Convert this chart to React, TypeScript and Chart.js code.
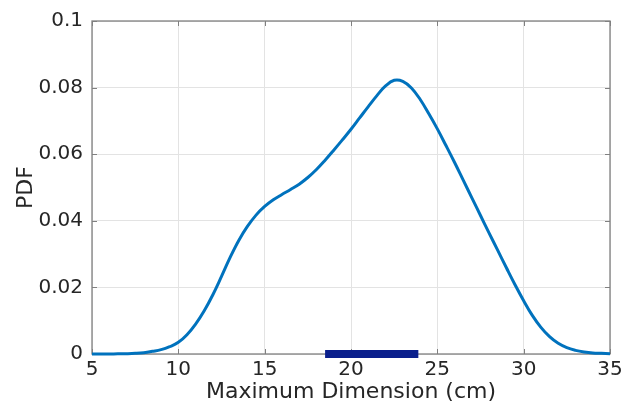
import React, { useEffect, useRef } from "react";
import { Chart, registerables } from "chart.js";

Chart.register(...registerables);

const xValues = [5, 5.5, 6, 6.5, 7, 7.5, 8, 8.5, 9, 9.5, 10, 10.5, 11, 11.5, 12, 12.5, 13, 13.5, 14, 14.5, 15, 15.5, 16, 16.5, 17, 17.5, 18, 18.5, 19, 19.5, 20, 20.5, 21, 21.5, 22, 22.5, 23, 23.5, 24, 24.5, 25, 25.5, 26, 26.5, 27, 27.5, 28, 28.5, 29, 29.5, 30, 30.5, 31, 31.5, 32, 32.5, 33, 33.5, 34, 34.5, 35];
const pdfValues = [0.0, 0.00001, 0.00002, 0.00005, 0.0001, 0.0002, 0.0004, 0.0008, 0.0013, 0.0022, 0.0035, 0.0058, 0.009, 0.013, 0.0178, 0.0233, 0.029, 0.0341, 0.0383, 0.0417, 0.0443, 0.0463, 0.0479, 0.0494, 0.051, 0.053, 0.0554, 0.0582, 0.0612, 0.0643, 0.0675, 0.0709, 0.0743, 0.0776, 0.0805, 0.0822, 0.0819, 0.0799, 0.0765, 0.0722, 0.0676, 0.0626, 0.0575, 0.0522, 0.0469, 0.0416, 0.0363, 0.0311, 0.0259, 0.0208, 0.016, 0.0116, 0.008, 0.0052, 0.0032, 0.0019, 0.0011, 0.0006, 0.0003, 0.0002, 0.0001];
const rangeX = [18.5, 23.9];
const rangeY = [0, 0];
const xTicks = [5, 10, 15, 20, 25, 30, 35];
const yTicks = [0, 0.02, 0.04, 0.06, 0.08, 0.1];
const xTitle = "Maximum Dimension (cm)";
const yTitle = "PDF";

const FONT = "'DejaVu Sans', sans-serif";

const boxPlugin = {
  id: "boxTicks",
  beforeDatasetsDraw(chart: any) {
    const { ctx, chartArea } = chart;
    const { left, right, top, bottom } = chartArea;
    const xs = chart.scales.x;
    const ys = chart.scales.y;
    const len = 5;
    ctx.save();
    ctx.strokeStyle = "#808080";
    ctx.lineWidth = 1;
    ctx.beginPath();
    xTicks.forEach((t) => {
      const px = Math.round(xs.getPixelForValue(t)) + 0.5;
      ctx.moveTo(px, bottom);
      ctx.lineTo(px, bottom - len);
      ctx.moveTo(px, top);
      ctx.lineTo(px, top + len);
    });
    yTicks.forEach((t) => {
      const py = Math.round(ys.getPixelForValue(t)) + 0.5;
      ctx.moveTo(left, py);
      ctx.lineTo(left + len, py);
      ctx.moveTo(right, py);
      ctx.lineTo(right - len, py);
    });
    ctx.stroke();
    ctx.lineWidth = 1.3;
    ctx.strokeRect(left, top, right - left, bottom - top);
    ctx.restore();
  },
};

export default function App() {
  const ref = useRef<HTMLCanvasElement>(null);
  useEffect(() => {
    document.body.style.margin = "0";
    const canvas = ref.current!;
    const chart = new Chart(canvas, {
      type: "line",
      data: {
        datasets: [
          {
            data: xValues.map((x, i) => ({ x, y: pdfValues[i] })),
            borderColor: "#0072BD",
            borderWidth: 3,
            pointRadius: 0,
            tension: 0.4,
            fill: false,
            clip: false,
          },
          {
            data: rangeX.map((x, i) => ({ x, y: rangeY[i] })),
            borderColor: "#0a1f8c",
            borderWidth: 8,
            borderCapStyle: "butt",
            pointRadius: 0,
            fill: false,
            clip: false,
          },
        ],
      },
      plugins: [boxPlugin],
      options: {
        animation: false,
        responsive: false,
        maintainAspectRatio: false,
        layout: { padding: { top: 20, right: 26, left: 0, bottom: 0 } },
        plugins: { legend: { display: false }, tooltip: { enabled: false } },
        scales: {
          x: {
            type: "linear",
            min: 5,
            max: 35,
            afterFit: (s: any) => {
              s.height = 50;
            },
            afterBuildTicks: (s: any) => {
              s.ticks = xTicks.map((v) => ({ value: v }));
            },
            grid: { color: "#e3e3e3", drawTicks: false },
            border: { display: false },
            ticks: {
              padding: 4,
              color: "#262626",
              font: { family: FONT, size: 20 },
              maxRotation: 0,
              callback: (v: any) => String(v),
            },
            title: {
              display: true,
              text: xTitle,
              color: "#262626",
              font: { family: FONT, size: 22, lineHeight: 1 },
              padding: { top: 0, bottom: 1 },
            },
          },
          y: {
            type: "linear",
            min: 0,
            max: 0.1,
            afterFit: (s: any) => {
              s.width = 92;
            },
            afterBuildTicks: (s: any) => {
              s.ticks = yTicks.map((v) => ({ value: v }));
            },
            grid: { color: "#e3e3e3", drawTicks: false },
            border: { display: false },
            ticks: {
              padding: 9,
              color: "#262626",
              font: { family: FONT, size: 20 },
              callback: (v: any) => String(Math.round(v * 100) / 100),
            },
            title: {
              display: true,
              text: yTitle,
              color: "#262626",
              font: { family: FONT, size: 22, lineHeight: 1 },
              padding: { top: 15, bottom: 0 },
            },
          },
        },
      },
    } as any);
    return () => chart.destroy();
  }, []);
  return (
    <div style={{ width: 636, height: 404, background: "#fff" }}>
      <canvas ref={ref} width={636} height={404} style={{ display: "block" }} />
    </div>
  );
}
